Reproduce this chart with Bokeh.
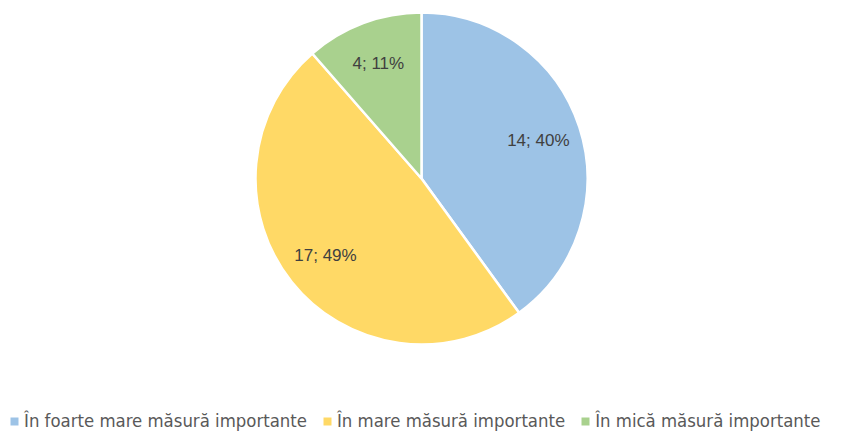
import math
from bokeh.plotting import figure
from bokeh.models import ColumnDataSource, Legend, LegendItem, Range1d
from bokeh.core.properties import value
from bokeh.embed import file_html
from bokeh.resources import INLINE

categories = ["În foarte mare măsură importante", "În mare măsură importante", "În mică măsură importante"]
counts = [14, 17, 4]
percents = [40, 49, 11]
colors = ["#9DC3E6", "#FFD966", "#A9D18E"]

W, H = 844, 431
cx, cy, R = 421, 253, 166

total = sum(counts)
starts, ends, lx, ly, labels = [], [], [], [], []
cum = 0
for c, pc in zip(counts, percents):
    a0 = math.pi / 2 - 2 * math.pi * cum / total
    a1 = math.pi / 2 - 2 * math.pi * (cum + c) / total
    starts.append(a0)
    ends.append(a1)
    mid = (a0 + a1) / 2
    lx.append(cx + 0.74 * R * math.cos(mid))
    ly.append(cy + 0.74 * R * math.sin(mid))
    labels.append(f"{c}; {pc}%")
    cum += c

p = figure(width=W, height=H, output_backend="svg", toolbar_location=None,
           x_range=Range1d(0, W), y_range=Range1d(0, H), min_border=0)
p.axis.visible = False
p.grid.visible = False
p.outline_line_color = None

items = []
nan = float("nan")
for i in range(3):
    src = ColumnDataSource(dict(x=[cx], y=[cy], s=[starts[i]], e=[ends[i]]))
    p.wedge(x="x", y="y", radius=R, start_angle="s", end_angle="e", direction="clock",
            fill_color=colors[i], line_color="white", line_width=2.5, source=src)
    key = p.quad(left=[nan], right=[nan], bottom=[nan], top=[nan],
                 fill_color=colors[i], line_color=None)
    items.append(LegendItem(label=categories[i], renderers=[key]))

p.text(x=lx, y=ly, text=labels, text_align="center", text_baseline="middle",
       text_font=value("Liberation Sans"), text_font_size="17px", text_color="#404040")

legend = Legend(items=items, orientation="horizontal",
                label_text_font="DejaVu Sans Condensed", label_text_font_size="18.4px",
                label_text_color="#595959", glyph_width=10, glyph_height=10,
                label_standoff=5, spacing=15, padding=0, margin=0,
                border_line_color=None, background_fill_alpha=0)
legend.location = (9, 0)
p.add_layout(legend)

open("out.html", "w").write(file_html(p, INLINE))
